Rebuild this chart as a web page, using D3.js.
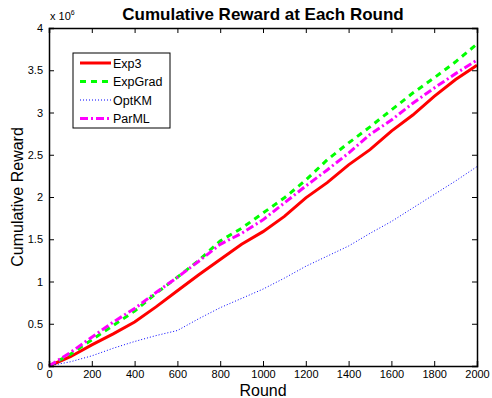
<!DOCTYPE html>
<html>
<head>
<meta charset="utf-8">
<script src="https://cdn.jsdelivr.net/npm/d3@7"></script>
<style>
  body { margin: 0; background: #fff; }
  text { font-family: "Liberation Sans", Arial, sans-serif; }
</style>
</head>
<body>
<div id="chart"></div>
<script>
const rounds = [0, 100, 200, 300, 400, 500, 600, 700, 800, 900, 1000,
  1100, 1200, 1300, 1400, 1500, 1600, 1700, 1800, 1900, 2000];
// values in units of 10^6
const exp3 = [0, 0.11, 0.25, 0.38, 0.52, 0.70, 0.89, 1.08, 1.26, 1.44, 1.59,
  1.77, 1.99, 2.17, 2.38, 2.56, 2.78, 2.97, 3.19, 3.39, 3.56];
const expGrad = [0, 0.14, 0.31, 0.48, 0.65, 0.86, 1.05, 1.25, 1.48, 1.63, 1.81,
  1.99, 2.20, 2.44, 2.64, 2.83, 3.03, 3.23, 3.41, 3.60, 3.81];
const optKM = [0, 0.05, 0.12, 0.21, 0.29, 0.36, 0.42, 0.56, 0.69, 0.80, 0.91,
  1.04, 1.18, 1.30, 1.42, 1.57, 1.71, 1.87, 2.03, 2.19, 2.36];
const parML = [0, 0.16, 0.34, 0.52, 0.68, 0.87, 1.05, 1.24, 1.44, 1.57, 1.73,
  1.93, 2.13, 2.32, 2.52, 2.74, 2.91, 3.11, 3.29, 3.46, 3.62];
const xTicks = [0, 200, 400, 600, 800, 1000, 1200, 1400, 1600, 1800, 2000];
const yTicks = [0, 0.5, 1, 1.5, 2, 2.5, 3, 3.5, 4];

const series = [
  {name: "Exp3", values: exp3, color: "#ff0000", width: 3, dash: null},
  {name: "ExpGrad", values: expGrad, color: "#00ff00", width: 3, dash: "6,5"},
  {name: "OptKM", values: optKM, color: "#0000ff", width: 1, dash: "1,2"},
  {name: "ParML", values: parML, color: "#ff00ff", width: 3, dash: "8,3,2,3"}
];

const W = 492, H = 398;
const margin = {top: 28, right: 15, bottom: 32, left: 49};
const width = W - margin.left - margin.right,
      height = H - margin.top - margin.bottom;

const svg = d3.select("#chart").append("svg")
    .attr("width", W).attr("height", H);
const g = svg.append("g")
    .attr("transform", `translate(${margin.left},${margin.top})`);

const x = d3.scaleLinear().domain([0, 2000]).range([0, width]);
const y = d3.scaleLinear().domain([0, 4]).range([height, 0]);

// lines
const line = d3.line()
    .x((d, i) => x(rounds[i]))
    .y(d => y(d));

series.forEach(s => {
  g.append("path")
    .datum(s.values)
    .attr("fill", "none")
    .attr("stroke", s.color)
    .attr("stroke-width", s.width)
    .attr("stroke-dasharray", s.dash)
    .attr("d", line);
});

// axes, MATLAB style: ticks inside, box all round
const fmtY = d => d === 0 ? "0" : String(d);
g.append("g")
    .attr("transform", `translate(0,${height})`)
    .call(d3.axisBottom(x).tickValues(xTicks).tickFormat(d3.format("d")).tickSize(-5).tickPadding(4))
    .call(a => a.selectAll("text").attr("font-size", 11).attr("fill", "#000"));
g.append("g")
    .call(d3.axisLeft(y).tickValues(yTicks).tickFormat(fmtY).tickSize(-5).tickPadding(6))
    .call(a => a.selectAll("text").attr("font-size", 11).attr("fill", "#000"));
g.append("g")
    .call(d3.axisTop(x).tickValues(xTicks).tickSize(-5).tickFormat(""));
g.append("g")
    .attr("transform", `translate(${width},0)`)
    .call(d3.axisRight(y).tickValues(yTicks).tickSize(-5).tickFormat(""));
g.selectAll(".domain").attr("stroke", "#000").attr("stroke-width", 1.5);
g.selectAll(".tick line").attr("stroke", "#000");

// exponent label
const ex = svg.append("text")
    .attr("x", margin.left + 1).attr("y", margin.top - 8)
    .attr("font-size", 11);
ex.append("tspan").text("x 10");
ex.append("tspan").attr("font-size", 7).attr("dy", -5).text("6");

// title and labels
svg.append("text")
    .attr("x", margin.left + width / 2).attr("y", 20)
    .attr("text-anchor", "middle")
    .attr("font-size", 17).attr("font-weight", "bold")
    .text("Cumulative Reward at Each Round");
svg.append("text")
    .attr("x", margin.left + width / 2).attr("y", 396)
    .attr("text-anchor", "middle")
    .attr("font-size", 16)
    .text("Round");
svg.append("text")
    .attr("transform", `translate(23,${margin.top + height / 2}) rotate(-90)`)
    .attr("text-anchor", "middle")
    .attr("font-size", 16)
    .text("Cumulative Reward");

// legend
const lg = svg.append("g").attr("transform", "translate(73,53)");
lg.append("rect")
    .attr("width", 97).attr("height", 75)
    .attr("fill", "#fff").attr("stroke", "#000").attr("stroke-width", 1);
series.forEach((s, i) => {
  const yy = 10 + i * 18.5;
  lg.append("line")
    .attr("x1", 7).attr("x2", 38).attr("y1", yy).attr("y2", yy)
    .attr("stroke", s.color).attr("stroke-width", s.width)
    .attr("stroke-dasharray", s.dash);
  lg.append("text")
    .attr("x", 40).attr("y", yy + 4.5)
    .attr("font-size", 12.5)
    .text(s.name);
});
</script>
</body>
</html>
